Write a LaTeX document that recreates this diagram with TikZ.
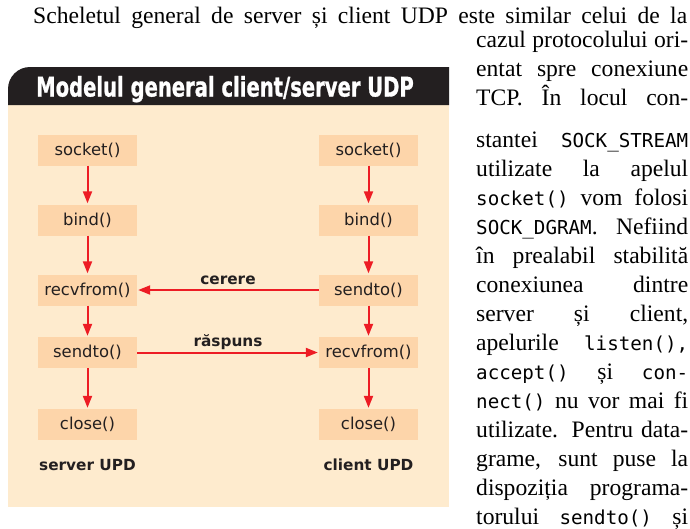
\documentclass[tikz,border=0pt]{standalone}
\usepackage{fontspec}
\usepackage{graphicx}
\setmainfont{Liberation Serif}
\newfontfamily\diagfont{DejaVu Sans}
\newfontfamily\monofont{DejaVu Sans Mono}
\newfontfamily\titlefont[FakeBold=1.2]{DejaVu Sans Bold}
\usetikzlibrary{arrows.meta}
\definecolor{cream}{RGB}{254,235,206}
\definecolor{peach}{RGB}{253,213,170}
\definecolor{hdr}{RGB}{35,31,32}
\definecolor{arrred}{RGB}{237,28,36}
\definecolor{ink}{RGB}{35,31,32}
\newcommand\mono[1]{{\monofont\fontsize{19.2}{20}\selectfont #1}}
\newcommand\jl[1]{\makebox[212pt][s]{#1}}
\begin{document}
\begin{tikzpicture}[x=1pt,y=-1pt,
  fn/.style={fill=peach, minimum width=99pt, minimum height=31pt, inner sep=0pt,
    font=\diagfont\fontsize{16.4}{18}\selectfont, text=ink},
  flow/.style={draw=arrred, line width=2pt, -{Triangle[length=12pt,width=9pt]}, shorten >=1pt},
  lab/.style={font=\diagfont\bfseries\fontsize{15.3}{17}\selectfont, text=ink, inner sep=0pt},
  body/.style={anchor=base west, inner sep=0pt, font=\fontsize{23.6}{28}\selectfont, text=black},
]
\useasboundingbox (0,0) rectangle (690,528);
% panel
\fill[cream] (8,105) rectangle (449,507);
\fill[hdr] (8,105) -- (8,89) .. controls (8,76.85) and (17.85,67) .. (30,67) -- (449,67) -- (449,105) -- cycle;
\node[anchor=base, inner sep=0pt, text=white, font=\titlefont\fontsize{27}{29}\selectfont] (title) at (225,96.5)
  {\scalebox{0.725}[1]{Modelul general client/server UDP}};
% server column
\node[fn] (s1) at (87.5,150) {socket()};
\node[fn] (s2) at (87.5,220) {bind()};
\node[fn] (s3) at (87.5,290) {recvfrom()};
\node[fn] (s4) at (87.5,352.5) {sendto()};
\node[fn] (s5) at (87.5,424.5) {close()};
% client column
\node[fn] (c1) at (368.5,150) {socket()};
\node[fn] (c2) at (368.5,220) {bind()};
\node[fn] (c3) at (368.5,290) {sendto()};
\node[fn] (c4) at (368.5,352.5) {recvfrom()};
\node[fn] (c5) at (368.5,424.5) {close()};
\draw[flow] (s1) -- (s2);
\draw[flow] (s2) -- (s3);
\draw[flow] (s3) -- (s4);
\draw[flow] (s4) -- (s5);
\draw[flow] (c1) -- (c2);
\draw[flow] (c2) -- (c3);
\draw[flow] (c3) -- (c4);
\draw[flow] (c4) -- (c5);
\draw[flow] (c3) -- node[lab, midway, anchor=base, yshift=6pt] (lcer) {cerere} (s3);
\draw[flow] (s4) -- node[lab, midway, anchor=base, yshift=6pt] (lrasp) {răspuns} (c4);
\node[lab, anchor=base] (sl) at (87.5,470) {server UPD};
\node[lab, anchor=base] (cl) at (368.5,470) {client UPD};
% body text
\node[body] (t0) at (33,23) {\makebox[654pt][s]{Scheletul general de server și client UDP este similar celui de la}};
\node[body] (t1) at (476,47) {\jl{cazul protocolului ori-}};
\node[body] (t2) at (476,76) {\jl{entat spre conexiune}};
\node[body] (t3) at (476,105) {\jl{TCP. În locul con-}};
\node[body] (t4) at (476,147) {\jl{stantei \mono{SOCK\_STREAM}}};
\node[body] (t5) at (476,176) {\jl{utilizate la apelul}};
\node[body] (t6) at (476,205) {\jl{\mono{socket()} vom folosi}};
\node[body] (t7) at (476,234) {\jl{\mono{SOCK\_DGRAM}. Nefiind}};
\node[body] (t8) at (476,263) {\jl{în prealabil stabilită}};
\node[body] (t9) at (476,292) {\jl{conexiunea dintre}};
\node[body] (t10) at (476,321) {\jl{server și client,}};
\node[body] (t11) at (476,350) {\jl{apelurile \mono{listen(),}}};
\node[body] (t12) at (476,379) {\jl{\mono{accept()} și \mono{con-}}};
\node[body] (t13) at (476,408) {\jl{\mono{nect()} nu vor mai fi}};
\node[body] (t14) at (476,437) {\jl{utilizate. Pentru data-}};
\node[body] (t15) at (476,466) {\jl{grame, sunt puse la}};
\node[body] (t16) at (476,495) {\jl{dispoziția programa-}};
\node[body] (t17) at (476,524) {\jl{torului \mono{sendto()} și}};
\end{tikzpicture}
\end{document}
